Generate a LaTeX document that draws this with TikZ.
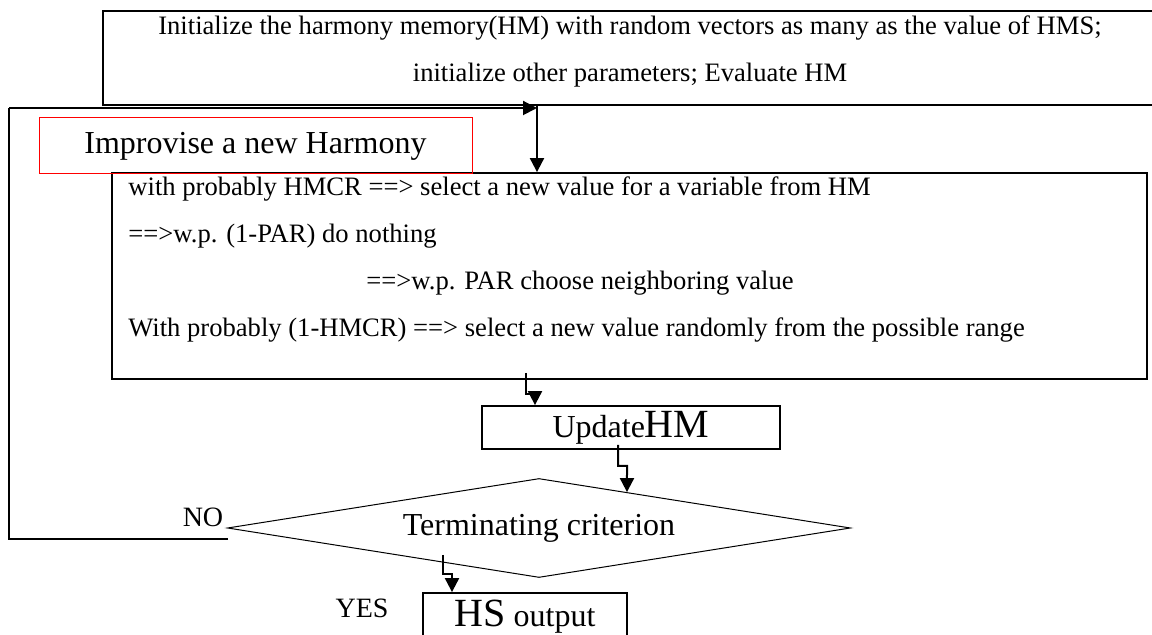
\documentclass[tikz,border=0pt]{standalone}
\usepackage{fontspec}
\setmainfont{Liberation Serif}
\usetikzlibrary{shapes.geometric,arrows.meta,calc}
\newcommand\bodyfont{\fontsize{13.3}{23.5}\selectfont}
\newcommand\bigfont{\fontsize{16}{19}\selectfont}
\newcommand\hugefont{\fontsize{20}{22}\selectfont}
\tikzset{
  stepbox/.style={draw,line width=0.9pt,inner sep=0pt},
  arr/.style={-{Triangle[length=7pt,width=7pt]},line width=1pt},
  lbl/.style={font=\fontsize{14}{16}\selectfont},
}
\begin{document}
\begin{tikzpicture}[x=0.5pt,y=-0.5pt]
\useasboundingbox (0,0) rectangle (1152,635);
% boxes
\node[stepbox,minimum width=528.5pt,minimum height=47pt] (init) at (631.5,58) {};
\node[align=center,font=\bodyfont] (inittext) at (630,51)
  {Initialize the harmony memory(HM) with random vectors as many as the value of HMS;\\
   initialize other parameters; Evaluate HM};
\node[stepbox,minimum width=517.5pt,minimum height=103pt] (rule) at (629.5,276) {};
\node[anchor=west,align=left,inner sep=0pt,font=\bodyfont] (ruletext) at (128,259.5)
  {with probably HMCR ==> select a new value for a variable from HM\\
   ==>w.p. (1-PAR) do nothing\\
   \hspace*{119pt}==>w.p. PAR choose neighboring value\\
   With probably (1-HMCR) ==> select a new value randomly from the possible range};
\node[stepbox,draw=red,line width=0.5pt,minimum width=216.5pt,minimum height=28pt,font=\bigfont] (improv) at (255.5,146) {Improvise a new Harmony};
\node[stepbox,minimum width=149pt,minimum height=21.5pt,font=\bigfont] (update) at (631,427.5) {Update{\hugefont HM}};
\node[draw,diamond,line width=0.5pt,aspect=6.3,minimum width=311.5pt,minimum height=49.5pt,inner sep=0pt,font=\bigfont] (term) at (539,528) {Terminating criterion};
\node[stepbox,minimum width=102pt,minimum height=24pt,font=\bigfont] (hsout) at (525,617) {{\hugefont HS} output};
\node[lbl] (no) at (203,517) {NO};
\node[lbl] (yes) at (362,608) {YES};
% connectors
\coordinate (entry) at (537,108);
\coordinate (corner) at (9,108);
\coordinate (nofoot) at (228,539);
\draw[line width=0.6pt] (nofoot) -| (corner);
\draw[arr] (corner) -- (entry);
\draw[arr] (init.south -| entry) -- (rule.north -| entry);
\coordinate (z1) at (526,373);
\draw[arr] (z1) -- ++(0,21) -- ++(9,0) coordinate (z1b) -- (z1b |- update.north);
\coordinate (z2) at (618,445);
\draw[arr] (z2) -- ++(0,21) -- ++(9,0) -- ($(term.north)!0.282!(term.east)$);
\coordinate (z3) at (443,555);
\draw[arr] (z3) -- ++(0,19) -- ++(9,0) coordinate (z3b) -- (z3b |- hsout.north);
\end{tikzpicture}
\end{document}
